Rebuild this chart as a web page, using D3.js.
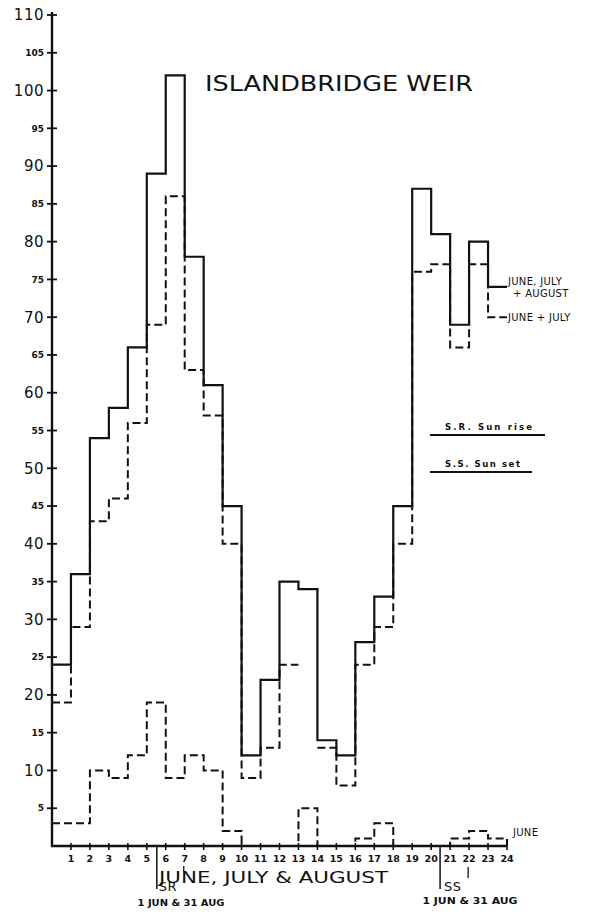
<!DOCTYPE html>
<html>
<head>
<meta charset="utf-8">
<script src="https://cdn.jsdelivr.net/npm/d3@7"></script>
<style>
  html, body { margin: 0; padding: 0; background: #fff; }
  svg { display: block; }
  text { font-family: "DejaVu Sans", sans-serif; fill: #111; }
</style>
</head>
<body>
<script>
// ---- data ----
const hourLabels = d3.range(1, 25);               // x tick labels 1..24
const yMajorTicks = [10, 20, 30, 40, 50, 60, 70, 80, 90, 100, 110];
const yMinorTicks = [5, 15, 25, 35, 45, 55, 65, 75, 85, 95, 105];
// counts per hour (hour i -> i+1)
const juneJulyAugust = [24, 36, 54, 58, 66, 89, 102, 78, 61, 45, 12, 22, 35, 34, 14, 12, 27, 33, 45, 87, 81, 69, 80, 74];
const juneJuly       = [19, 29, 43, 46, 56, 69, 86, 63, 57, 40, 9, 13, 24, null, 13, 8, 24, 29, 40, 76, 77, 66, 77, 70];
const june           = [3, 3, 10, 9, 12, 19, 9, 12, 10, 2, 0, 0, 0, 5, 0, 0, 1, 3, 0, 0, 0, 1, 2, 1];
const sunLabels = ["SR", "SS"];
const sunHours1 = [5.53, 20.47];   // 1 June
const sunHours2 = [6.95, 21.95];   // 31 August
const sunDates = "1 JUN & 31 AUG";

const W = 600, H = 920;
const svg = d3.select("body").append("svg").attr("width", W).attr("height", H);
svg.append("rect").attr("width", W).attr("height", H).attr("fill", "#fff");

const x = d3.scaleLinear().domain([0, 24]).range([52, 507]);
const y = d3.scaleLinear().domain([0, 110]).range([846, 15]);

// ---- axes ----
const ax = svg.append("g").attr("stroke", "#111").attr("fill", "none");
ax.append("line").attr("x1", x(0)).attr("x2", x(0)).attr("y1", y(110) - 3).attr("y2", y(0) + 1).attr("stroke-width", 2.4);
ax.append("line").attr("x1", x(0) - 1).attr("x2", x(24)).attr("y1", y(0)).attr("y2", y(0)).attr("stroke-width", 2.4);

// y ticks
const yTickG = svg.append("g");
yTickG.selectAll("line.yt").data(yMajorTicks.concat(yMinorTicks)).join("line")
  .attr("x1", x(0) - 5).attr("x2", x(0) + 5)
  .attr("y1", d => y(d)).attr("y2", d => y(d))
  .attr("stroke", "#111").attr("stroke-width", 1.8);
yTickG.selectAll("text.maj").data(yMajorTicks).join("text")
  .attr("x", 44).attr("y", d => y(d)).attr("dy", "0.36em")
  .attr("text-anchor", "end").attr("font-size", 15).attr("letter-spacing", 0.5)
  .text(d => d);
yTickG.selectAll("text.min").data(yMinorTicks).join("text")
  .attr("x", 44).attr("y", d => y(d)).attr("dy", "0.36em")
  .attr("text-anchor", "end").attr("font-size", 9).attr("font-weight", "bold")
  .text(d => d);

// x ticks
const xTickG = svg.append("g");
xTickG.selectAll("line").data(hourLabels).join("line")
  .attr("x1", d => x(d)).attr("x2", d => x(d))
  .attr("y1", y(0) - 3).attr("y2", y(0) + 4)
  .attr("stroke", "#111").attr("stroke-width", 1.6);
xTickG.selectAll("text").data(hourLabels).join("text")
  .attr("x", d => x(d)).attr("y", 862)
  .attr("text-anchor", "middle").attr("font-size", 9.5).attr("font-weight", "bold")
  .text(d => d);

// ---- step series ----
function stepPoints(vals) {
  const pts = [];
  vals.forEach((v, i) => {
    if (v == null) { pts.push(null); return; }
    pts.push([i, v], [i + 1, v]);
  });
  return pts;
}
const line = d3.line()
  .defined(d => d !== null)
  .x(d => x(d[0])).y(d => y(d[1]));

svg.append("path").attr("d", line(stepPoints(juneJuly)))
  .attr("fill", "none").attr("stroke", "#111").attr("stroke-width", 2)
  .attr("stroke-dasharray", "8,4");
const junePts = [[0, june[0]]].concat(stepPoints(june).slice(1), [[24, 0]]);
svg.append("path").attr("d", line(junePts))
  .attr("fill", "none").attr("stroke", "#111").attr("stroke-width", 2)
  .attr("stroke-dasharray", "8,4");
svg.append("path").attr("d", line(stepPoints(juneJulyAugust)))
  .attr("fill", "none").attr("stroke", "#111").attr("stroke-width", 2.2);

// ---- series labels ----
const lab = svg.append("g").attr("font-size", 10).attr("letter-spacing", 0.3);
lab.append("text").attr("x", x(24) + 1).attr("y", y(juneJulyAugust[23]) - 2).text("JUNE, JULY");
lab.append("text").attr("x", x(24) + 6).attr("y", y(juneJulyAugust[23]) + 10).text("+ AUGUST");
lab.append("text").attr("x", x(24) + 1).attr("y", y(juneJuly[23]) + 4).text("JUNE + JULY");
lab.append("text").attr("x", x(24) + 6).attr("y", y(june[23]) - 2).text("JUNE");

// ---- title ----
svg.append("text").attr("x", 205).attr("y", 91)
  .attr("font-size", 22).attr("textLength", 268).attr("lengthAdjust", "spacingAndGlyphs")
  .text("ISLANDBRIDGE WEIR");

// ---- x title ----
svg.append("text").attr("x", 159).attr("y", 883)
  .attr("font-size", 16.5).attr("textLength", 229).attr("lengthAdjust", "spacingAndGlyphs")
  .text("JUNE, JULY & AUGUST");

// ---- sunrise / sunset markers ----
const sun = svg.append("g");
sunLabels.forEach((s, i) => {
  sun.append("line").attr("x1", x(sunHours1[i])).attr("x2", x(sunHours1[i]))
    .attr("y1", y(0)).attr("y2", 889).attr("stroke", "#111").attr("stroke-width", 1.5);
  const y2a = i === 0 ? 866 : 867, y2b = i === 0 ? 872 : 878;
  sun.append("line").attr("x1", x(sunHours2[i])).attr("x2", x(sunHours2[i]))
    .attr("y1", y2a).attr("y2", y2b).attr("stroke", "#111").attr("stroke-width", 1.3);
  sun.append("text").attr("x", x(sunHours1[i]) + (i === 0 ? 2 : 4)).attr("y", 891)
    .attr("font-size", 13).attr("letter-spacing", 0.5).text(s);
  sun.append("text").attr("x", i === 0 ? 181 : 470).attr("y", i === 0 ? 906 : 904)
    .attr("text-anchor", "middle").attr("font-size", 9).attr("font-weight", "bold")
    .attr("textLength", i === 0 ? 87 : 95).attr("lengthAdjust", "spacingAndGlyphs")
    .text(sunDates);
});

// ---- legend ----
const leg = svg.append("g").attr("font-size", 8.5).attr("font-weight", "bold");
leg.append("text").attr("x", 445).attr("y", 430).attr("textLength", 87).attr("lengthAdjust", "spacing").text("S.R.  Sun rise");
leg.append("line").attr("x1", 430).attr("x2", 545).attr("y1", 435).attr("y2", 435).attr("stroke", "#111").attr("stroke-width", 1.8);
leg.append("text").attr("x", 445).attr("y", 467).attr("textLength", 75).attr("lengthAdjust", "spacing").text("S.S.  Sun set");
leg.append("line").attr("x1", 430).attr("x2", 532).attr("y1", 472).attr("y2", 472).attr("stroke", "#111").attr("stroke-width", 1.8);
</script>
</body>
</html>
